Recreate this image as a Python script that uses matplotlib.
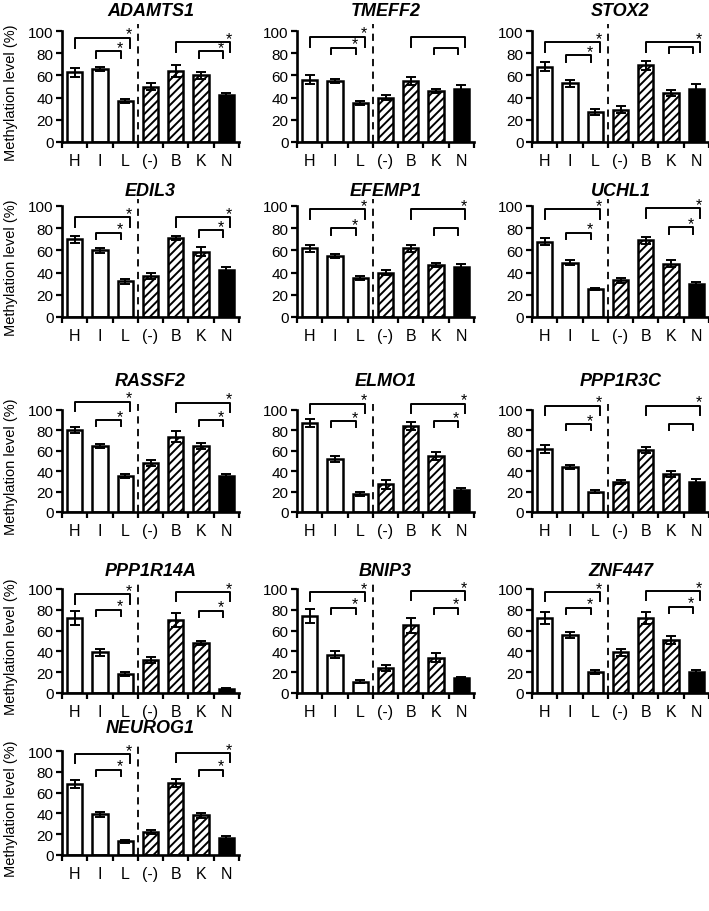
import matplotlib
matplotlib.use('Agg')
import matplotlib.pyplot as plt
import numpy as np

plt.rcParams['font.family'] = ['Liberation Sans', 'DejaVu Sans']
plt.rcParams['hatch.linewidth'] = 1.4

# ---------------- data ----------------
categories = ['H', 'I', 'L', '(-)', 'B', 'K', 'N']
genes = ['ADAMTS1', 'TMEFF2', 'STOX2', 'EDIL3', 'EFEMP1', 'UCHL1', 'RASSF2',
         'ELMO1', 'PPP1R3C', 'PPP1R14A', 'BNIP3', 'ZNF447', 'NEUROG1']

ADAMTS1_mean = [63, 66, 37, 50, 64, 60, 42]
ADAMTS1_err = [4, 2, 2, 3, 5, 3, 2]
TMEFF2_mean = [56, 55, 35, 40, 55, 46, 48]
TMEFF2_err = [4, 1.5, 1.5, 2, 4, 2, 3]
STOX2_mean = [68, 53, 27, 29, 69, 44, 48]
STOX2_err = [4, 3, 3, 3, 4, 3, 4]
EDIL3_mean = [70, 60, 32, 37, 71, 59, 42]
EDIL3_err = [3, 2, 2, 3, 2, 4, 3]
EFEMP1_mean = [62, 55, 35, 40, 62, 47, 45]
EFEMP1_err = [3, 1.5, 1.5, 2.5, 3, 2, 3]
UCHL1_mean = [68, 49, 25, 33, 69, 48, 30]
UCHL1_err = [3, 2, 1, 2, 3, 3, 1.5]
RASSF2_mean = [80, 65, 35, 48, 74, 65, 35]
RASSF2_err = [3, 2, 2, 3, 5, 3, 2]
ELMO1_mean = [87, 52, 18, 27, 84, 55, 22]
ELMO1_err = [4, 3, 2, 4, 4, 4, 2]
PPP1R3C_mean = [62, 44, 20, 29, 61, 37, 29]
PPP1R3C_err = [4, 2, 1.5, 2, 3, 3, 3]
PPP1R14A_mean = [72, 39, 18, 32, 70, 48, 4]
PPP1R14A_err = [7, 3, 2, 3, 7, 2, 1]
BNIP3_mean = [74, 37, 11, 24, 65, 34, 14]
BNIP3_err = [7, 3, 1.5, 3, 7, 4, 1.5]
ZNF447_mean = [72, 56, 20, 39, 72, 51, 20]
ZNF447_err = [6, 3, 2, 3, 6, 4, 2]
NEUROG1_mean = [68, 39, 13, 22, 69, 38, 16]
NEUROG1_err = [4, 2, 1, 2, 4, 2, 2]

# significance stars for brackets (H-L, I-L, B-N, K-N)
ADAMTS1_sig = [1, 1, 1, 1]
TMEFF2_sig = [1, 1, 0, 0]
STOX2_sig = [1, 1, 1, 0]
EDIL3_sig = [1, 1, 1, 1]
EFEMP1_sig = [1, 1, 1, 0]
UCHL1_sig = [1, 1, 1, 1]
RASSF2_sig = [1, 1, 1, 1]
ELMO1_sig = [1, 1, 1, 1]
PPP1R3C_sig = [1, 1, 1, 0]
PPP1R14A_sig = [1, 1, 1, 1]
BNIP3_sig = [1, 1, 1, 1]
ZNF447_sig = [1, 1, 1, 1]
NEUROG1_sig = [1, 1, 1, 1]

means = {g: globals()[g + '_mean'] for g in genes}
errs = {g: globals()[g + '_err'] for g in genes}
sigs = {g: globals()[g + '_sig'] for g in genes}

# ---------------- layout ----------------
W, H = 709, 912
fig = plt.figure(figsize=(W / 100, H / 100), dpi=100)

col_left = [62, 297, 532]
ax_w = 177
rows = [(32, 143), (207, 318), (411, 513), (590, 694), (752, 856)]
title_y = [12, 192, 382, 572, 729]

# bracket levels (HL, IL, BN, KN)
bracket_levels = {
    'ADAMTS1': (94, 82, 90, 82), 'TMEFF2': (95, 85, 95, 85),
    'STOX2': (90, 78, 90, 86), 'EDIL3': (90, 76, 90, 78),
    'EFEMP1': (97, 80, 97, 80), 'UCHL1': (97, 76, 98, 81),
    'RASSF2': (108, 90, 107, 90), 'ELMO1': (106, 89, 106, 89),
    'PPP1R3C': (104, 86, 104, 86), 'PPP1R14A': (95, 80, 97, 79),
    'BNIP3': (97, 82, 98, 82), 'ZNF447': (97, 82, 98, 83),
    'NEUROG1': (97, 82, 98, 82),
}
bracket_x = [(0.0, 2.2), (0.85, 1.85), (4.0, 6.15), (4.9, 5.85)]
leg_len = [9, 6, 9, 6]

face = ['white'] * 3 + ['white'] * 3 + ['black']
hatch = [None] * 3 + ['////'] * 3 + [None]

for i, g in enumerate(genes):
    r, c = divmod(i, 3)
    top, bot = rows[r]
    left = col_left[c]
    ax = fig.add_axes([left / W, 1 - bot / H, ax_w / W, (bot - top) / H])
    x = np.arange(len(categories))
    for j in range(len(categories)):
        ax.bar(x[j], means[g][j], width=0.6, color=face[j], edgecolor='black',
               linewidth=1.8, hatch=hatch[j], zorder=2)
    ax.errorbar(x, means[g], yerr=errs[g], fmt='none', ecolor='black',
                elinewidth=1.4, capsize=3.5, capthick=1.4, zorder=3)
    ax.set_xlim(-0.5, 6.5)
    ax.set_ylim(0, 100)
    ax.set_yticks([0, 20, 40, 60, 80, 100])
    ax.tick_params(axis='y', labelsize=11, width=1.6, length=4, direction='out', pad=2)
    ax.set_xticks(np.arange(-0.5, 7, 1))
    ax.set_xticklabels([])
    ax.set_xticks(x, minor=True)
    ax.set_xticklabels(categories, minor=True, fontsize=11.5)
    ax.tick_params(axis='x', which='major', width=1.6, length=4, direction='out')
    ax.tick_params(axis='x', which='minor', length=0, pad=8)
    for s in ['top', 'right']:
        ax.spines[s].set_visible(False)
    for s in ['left', 'bottom']:
        ax.spines[s].set_linewidth(1.9)
    # dashed separator
    ax.plot([2.5, 2.5], [0, 106], ls=(0, (4, 3)), color='black', lw=1.3,
            clip_on=False, zorder=4)
    # brackets
    lv = bracket_levels[g]
    for k in range(4):
        x1, x2 = bracket_x[k]
        y = lv[k]
        ax.plot([x1, x1, x2, x2], [y - leg_len[k], y, y, y - leg_len[k]],
                color='black', lw=1.4, clip_on=False, zorder=4)
        if sigs[g][k]:
            ax.text(x2 - 0.05, y - 3.5, '*', ha='center', va='bottom',
                    fontsize=11.5, clip_on=False)
    # title
    fig.text((left + ax_w / 2) / W, 1 - title_y[r] / H, g, ha='center',
             va='center', fontsize=13, style='italic', weight='bold')
    if c == 0:
        ax.set_ylabel('Methylation level (%)', fontsize=10.5)
        ax.yaxis.set_label_coords(-0.25, 0.45)

fig.savefig('out.png', dpi=100)
